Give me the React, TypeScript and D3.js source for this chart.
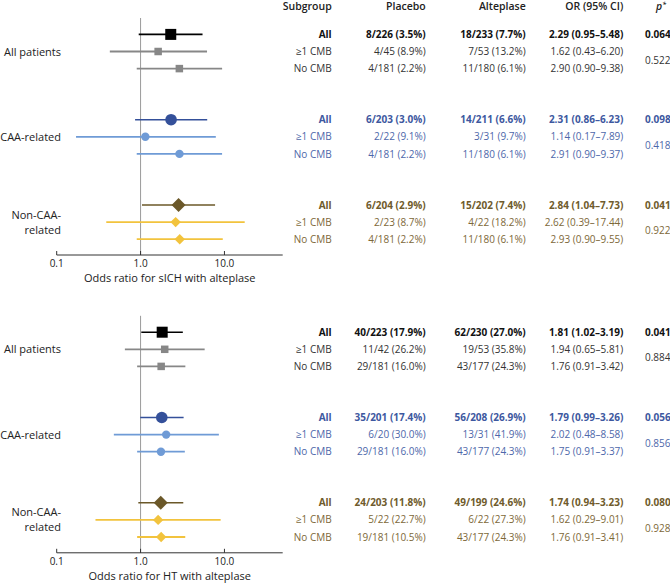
import React from "react";
import * as d3 from "d3";

const groups = ["All patients", "CAA-related", "Non-CAA-related"];
const groupLabelLines = [["All patients"], ["CAA-related"], ["Non-CAA-", "related"]];
const subgroups = ["All", "≥1 CMB", "No CMB"];
const headers = ["Subgroup", "Placebo", "Alteplase", "OR (95% CI)"];
const tickValues = [0.1, 1, 10];
const tickLabels = ["0.1", "1.0", "10.0"];
const axisTitles = ["Odds ratio for sICH with alteplase", "Odds ratio for HT with alteplase"];

// sICH panel
const sichOR = [[2.29, 1.62, 2.9], [2.31, 1.14, 2.91], [2.84, 2.62, 2.93]];
const sichLo = [[0.95, 0.43, 0.9], [0.86, 0.17, 0.9], [1.04, 0.39, 0.9]];
const sichHi = [[5.48, 6.2, 9.38], [6.23, 7.89, 9.37], [7.73, 17.44, 9.55]];
const sichPlacebo = [
  ["8/226 (3.5%)", "4/45 (8.9%)", "4/181 (2.2%)"],
  ["6/203 (3.0%)", "2/22 (9.1%)", "4/181 (2.2%)"],
  ["6/204 (2.9%)", "2/23 (8.7%)", "4/181 (2.2%)"],
];
const sichAlteplase = [
  ["18/233 (7.7%)", "7/53 (13.2%)", "11/180 (6.1%)"],
  ["14/211 (6.6%)", "3/31 (9.7%)", "11/180 (6.1%)"],
  ["15/202 (7.4%)", "4/22 (18.2%)", "11/180 (6.1%)"],
];
const sichORText = [
  ["2.29 (0.95–5.48)", "1.62 (0.43–6.20)", "2.90 (0.90–9.38)"],
  ["2.31 (0.86–6.23)", "1.14 (0.17–7.89)", "2.91 (0.90–9.37)"],
  ["2.84 (1.04–7.73)", "2.62 (0.39–17.44)", "2.93 (0.90–9.55)"],
];
const sichPAll = ["0.064", "0.098", "0.041"];
const sichPInter = ["0.522", "0.418", "0.922"];

// HT panel
const htOR = [[1.81, 1.94, 1.76], [1.79, 2.02, 1.75], [1.74, 1.62, 1.76]];
const htLo = [[1.02, 0.65, 0.91], [0.99, 0.48, 0.91], [0.94, 0.29, 0.91]];
const htHi = [[3.19, 5.81, 3.42], [3.26, 8.58, 3.37], [3.23, 9.01, 3.41]];
const htPlacebo = [
  ["40/223 (17.9%)", "11/42 (26.2%)", "29/181 (16.0%)"],
  ["35/201 (17.4%)", "6/20 (30.0%)", "29/181 (16.0%)"],
  ["24/203 (11.8%)", "5/22 (22.7%)", "19/181 (10.5%)"],
];
const htAlteplase = [
  ["62/230 (27.0%)", "19/53 (35.8%)", "43/177 (24.3%)"],
  ["56/208 (26.9%)", "13/31 (41.9%)", "43/177 (24.3%)"],
  ["49/199 (24.6%)", "6/22 (27.3%)", "43/177 (24.3%)"],
];
const htORText = [
  ["1.81 (1.02–3.19)", "1.94 (0.65–5.81)", "1.76 (0.91–3.42)"],
  ["1.79 (0.99–3.26)", "2.02 (0.48–8.58)", "1.75 (0.91–3.37)"],
  ["1.74 (0.94–3.23)", "1.62 (0.29–9.01)", "1.76 (0.91–3.41)"],
];
const htPAll = ["0.041", "0.056", "0.080"];
const htPInter = ["0.884", "0.856", "0.928"];

const mainColors = ["#000000", "#34509a", "#6b5829"];
const subColors = ["#878787", "#6f9bd6", "#f2c33d"];
const boldText = ["#111111", "#3d58a0", "#6f5b2c"];
const regText = ["#333333", "#4d67aa", "#7d6838"];
const shapes = ["square", "circle", "diamond"];

const panels = [
  { or: sichOR, lo: sichLo, hi: sichHi, pl: sichPlacebo, al: sichAlteplase, ort: sichORText, pa: sichPAll, pi: sichPInter, title: axisTitles[0] },
  { or: htOR, lo: htLo, hi: htHi, pl: htPlacebo, al: htAlteplase, ort: htORText, pa: htPAll, pi: htPInter, title: axisTitles[1] },
];

const FONT = "'Open Sans', sans-serif";

function Marker({ shape, x, y, big, color }: any) {
  if (shape === "square") {
    const s = big ? 11 : 7.5;
    return <rect x={x - s / 2} y={y - s / 2} width={s} height={s} fill={color} />;
  }
  if (shape === "circle") {
    return <circle cx={x} cy={y} r={big ? 5.8 : 4.2} fill={color} />;
  }
  const h = big ? 7 : 5.2;
  return <path d={`M${x},${y - h}L${x + h},${y}L${x},${y + h}L${x - h},${y}Z`} fill={color} />;
}

export default function App() {
  const x = d3.scaleLog().domain([0.1, 49.5]).range([56.7, 282.7]);
  const rowY = (g: number, r: number) => 34.4 + g * 85.3 + r * 17.1;
  const panelOffset = 297.8;
  const axisY = 255;
  const colX = [331.7, 425.7, 525.7, 623.3];
  const pX = 645;
  const lineGap = 15;

  return (
    <svg width={670} height={583} style={{ position: "absolute", left: 0, top: 0, fontFamily: FONT }}>
      <rect width={670} height={583} fill="#fff" />
      {headers.map((h, i) => (
        <text key={h} x={colX[i]} y={10} textAnchor="end" fontSize={10.5} fontWeight={600} fill="#222">
          {h}
        </text>
      ))}
      <text x={666} y={10} textAnchor="end" fontSize={10.5} fontWeight={600} fill="#222" fontStyle="italic">
        p<tspan dy={-3} fontSize={7}>*</tspan>
      </text>
      {panels.map((p, pi) => {
        const oy = pi * panelOffset;
        return (
          <g key={pi} transform={`translate(0,${oy})`}>
            <line x1={x(1)} x2={x(1)} y1={18} y2={axisY} stroke="#9a9a9a" strokeWidth={1} />
            <line x1={x.range()[0]} x2={x.range()[1]} y1={axisY} y2={axisY} stroke="#333" strokeWidth={1} />
            {tickValues.map((t, i) => (
              <g key={t}>
                <line x1={x(t)} x2={x(t)} y1={axisY} y2={axisY - 4} stroke="#333" strokeWidth={1} />
                <text x={x(t)} y={axisY + 12} textAnchor="middle" fontSize={10} fill="#222">
                  {tickLabels[i]}
                </text>
              </g>
            ))}
            <text x={(x.range()[0] + x.range()[1]) / 2} y={axisY + 27} textAnchor="middle" fontSize={11} fill="#222">
              {p.title}
            </text>
            {groups.map((gName, g) => {
              const lines = groupLabelLines[g];
              const cy = rowY(g, 1);
              const y0 = cy + 4 - ((lines.length - 1) / 2) * lineGap;
              return (
                <g key={gName}>
                  <text x={61} y={y0} textAnchor="end" fontSize={11} fill="#222">
                    {lines.map((ln, li) => (
                      <tspan key={ln} x={61} dy={li === 0 ? 0 : lineGap}>
                        {ln}
                      </tspan>
                    ))}
                  </text>
                  {subgroups.map((s, r) => {
                    const y = rowY(g, r);
                    const big = r === 0;
                    const col = big ? mainColors[g] : subColors[g];
                    const tcol = big ? boldText[g] : regText[g];
                    const fw = big ? 700 : 400;
                    return (
                      <g key={s}>
                        <line
                          x1={x(p.lo[g][r])}
                          x2={x(p.hi[g][r])}
                          y1={y}
                          y2={y}
                          stroke={col}
                          strokeWidth={big ? 1.6 : 1.8}
                        />
                        <Marker shape={shapes[g]} x={x(p.or[g][r])} y={y} big={big} color={col} />
                        {[s, p.pl[g][r], p.al[g][r], p.ort[g][r]].map((t, ci) => (
                          <text
                            key={ci}
                            x={colX[ci]}
                            y={y + 3.6}
                            textAnchor="end"
                            fontSize={10}
                            fontWeight={fw}
                            fill={tcol}
                          >
                            {t}
                          </text>
                        ))}
                        {big && (
                          <text x={pX} y={y + 3.6} fontSize={10} fontWeight={700} fill={tcol}>
                            {p.pa[g]}
                          </text>
                        )}
                      </g>
                    );
                  })}
                  <text x={pX} y={(rowY(g, 1) + rowY(g, 2)) / 2 + 3.6} fontSize={10} fill={regText[g]}>
                    {p.pi[g]}
                  </text>
                </g>
              );
            })}
          </g>
        );
      })}
    </svg>
  );
}
